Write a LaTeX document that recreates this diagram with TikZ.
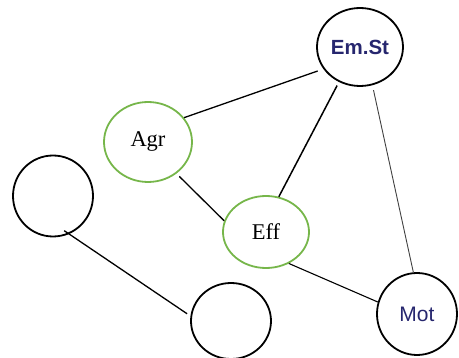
\documentclass[tikz,border=0pt]{standalone}
\usepackage{fontspec}
\setmainfont{Liberation Serif}
\setsansfont{Liberation Sans}
\usetikzlibrary{shapes.geometric}
\definecolor{ringgreen}{RGB}{118,182,74}
\definecolor{navytext}{RGB}{38,38,110}
\begin{document}
\begin{tikzpicture}[x=1pt,y=-1pt,
  plainring/.style={ellipse,draw=black,line width=1.8pt,inner sep=0pt},
  greenring/.style={ellipse,draw=ringgreen,line width=1.8pt,inner sep=0pt},
  link/.style={draw=black,line width=1.3pt}]
\useasboundingbox (0,0) rectangle (459,358);
% concept nodes
\node[plainring,minimum width=86,minimum height=78,
  font=\sffamily\bfseries\fontsize{20.5}{23}\selectfont,text=navytext] (emst) at (360,47) {Em.St};
\node[greenring,minimum width=88,minimum height=80,
  font=\fontsize{22.5}{25}\selectfont] (agr) at (148,142) {Agr};
\node[greenring,minimum width=86,minimum height=72,
  font=\fontsize{22.5}{25}\selectfont] (eff) at (266,232) {Eff};
\node[plainring,minimum width=80,minimum height=82,
  font=\sffamily\fontsize{21}{24}\selectfont,text=navytext] (mot) at (417,314) {Mot};
\node[plainring,minimum width=80,minimum height=81] (left) at (53,196) {};
\node[plainring,minimum width=80,minimum height=76] (bottom) at (231,321) {};
% connections
\draw[link,shorten >=6pt] (agr.34) -- (emst.211);
\draw[link,shorten <=4pt] (agr.-48) -- (eff.165);
\draw[link,line width=1.5pt,shorten >=4pt] (eff.70) -- (emst.239);
\draw[link,draw=black!75,line width=0.9pt,shorten <=5pt] (emst.-72) -- (mot.95);
\draw[link,line width=1.1pt] (eff.-54) -- (mot.163);
\draw[link,shorten <=-6pt,shorten >=4pt] (left.-67) -- (bottom.173);
\end{tikzpicture}
\end{document}
